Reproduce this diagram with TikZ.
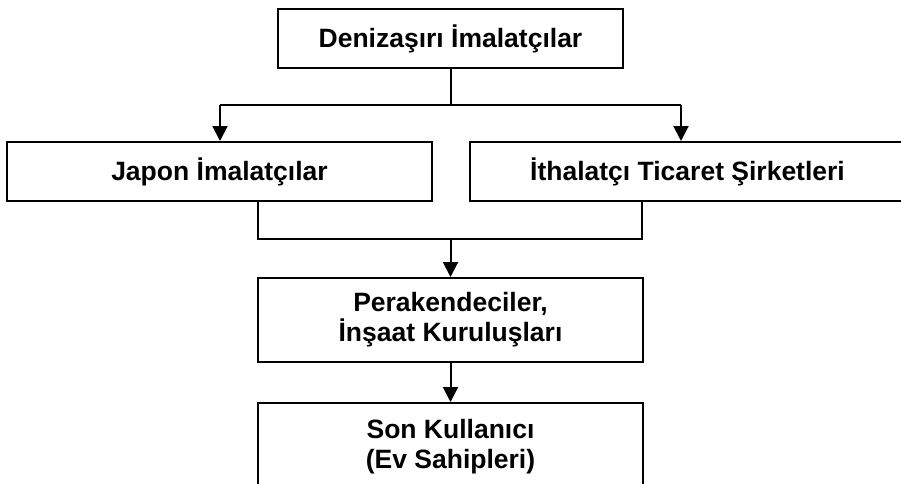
\documentclass[tikz,border=0pt]{standalone}
\usepackage{fontspec}
\setmainfont{Liberation Sans}
\usetikzlibrary{arrows.meta}
\tikzset{
  boxnode/.style={draw=black, line width=2pt, fill=white, inner sep=0pt, align=center,
    font=\fontsize{26.5}{30}\selectfont\bfseries},
  conn/.style={draw=black, line width=2pt},
  arr/.style={conn, -{Triangle[length=15pt,width=15pt]}},
}
\begin{document}
\begin{tikzpicture}[x=1pt,y=-1pt]
\useasboundingbox (0,0) rectangle (901,483);
\clip (0,0) rectangle (901,483);
\node[boxnode, minimum width=345pt, minimum height=59pt] (top) at (450.5,38.5) {Denizaşırı İmalatçılar};
\node[boxnode, minimum width=425pt, minimum height=59pt] (jap) at (219.5,171.5) {Japon İmalatçılar};
\node[boxnode, minimum width=435pt, minimum height=59pt] (ith) at (687.5,171.5) {İthalatçı Ticaret Şirketleri};
\node[boxnode, minimum width=385pt, minimum height=84pt] (per) at (450.5,320) {Perakendeciler,\\İnşaat Kuruluşları};
\node[boxnode, minimum width=385pt, minimum height=88pt] (son) at (450.5,447) {Son Kullanıcı\\(Ev Sahipleri)};
\coordinate (hl) at (220,105);
\coordinate (hr) at (681,105);
\coordinate (hm) at (top.south |- hl);
\coordinate (jl) at (258,239);
\coordinate (jr) at (642,239);
\coordinate (jm) at (per.north |- jl);
\draw[conn] (top.south) -- (hm);
\draw[conn] (hl) -- (hr);
\draw[arr] (hl) -- (hl |- jap.north);
\draw[arr] (hr) -- (hr |- ith.north);
\draw[conn] (jl |- jap.south) -- (jl) -- (jr) -- (jr |- ith.south);
\draw[arr] (jm) -- (per.north);
\draw[arr] (per.south) -- (son.north);
\end{tikzpicture}
\end{document}
